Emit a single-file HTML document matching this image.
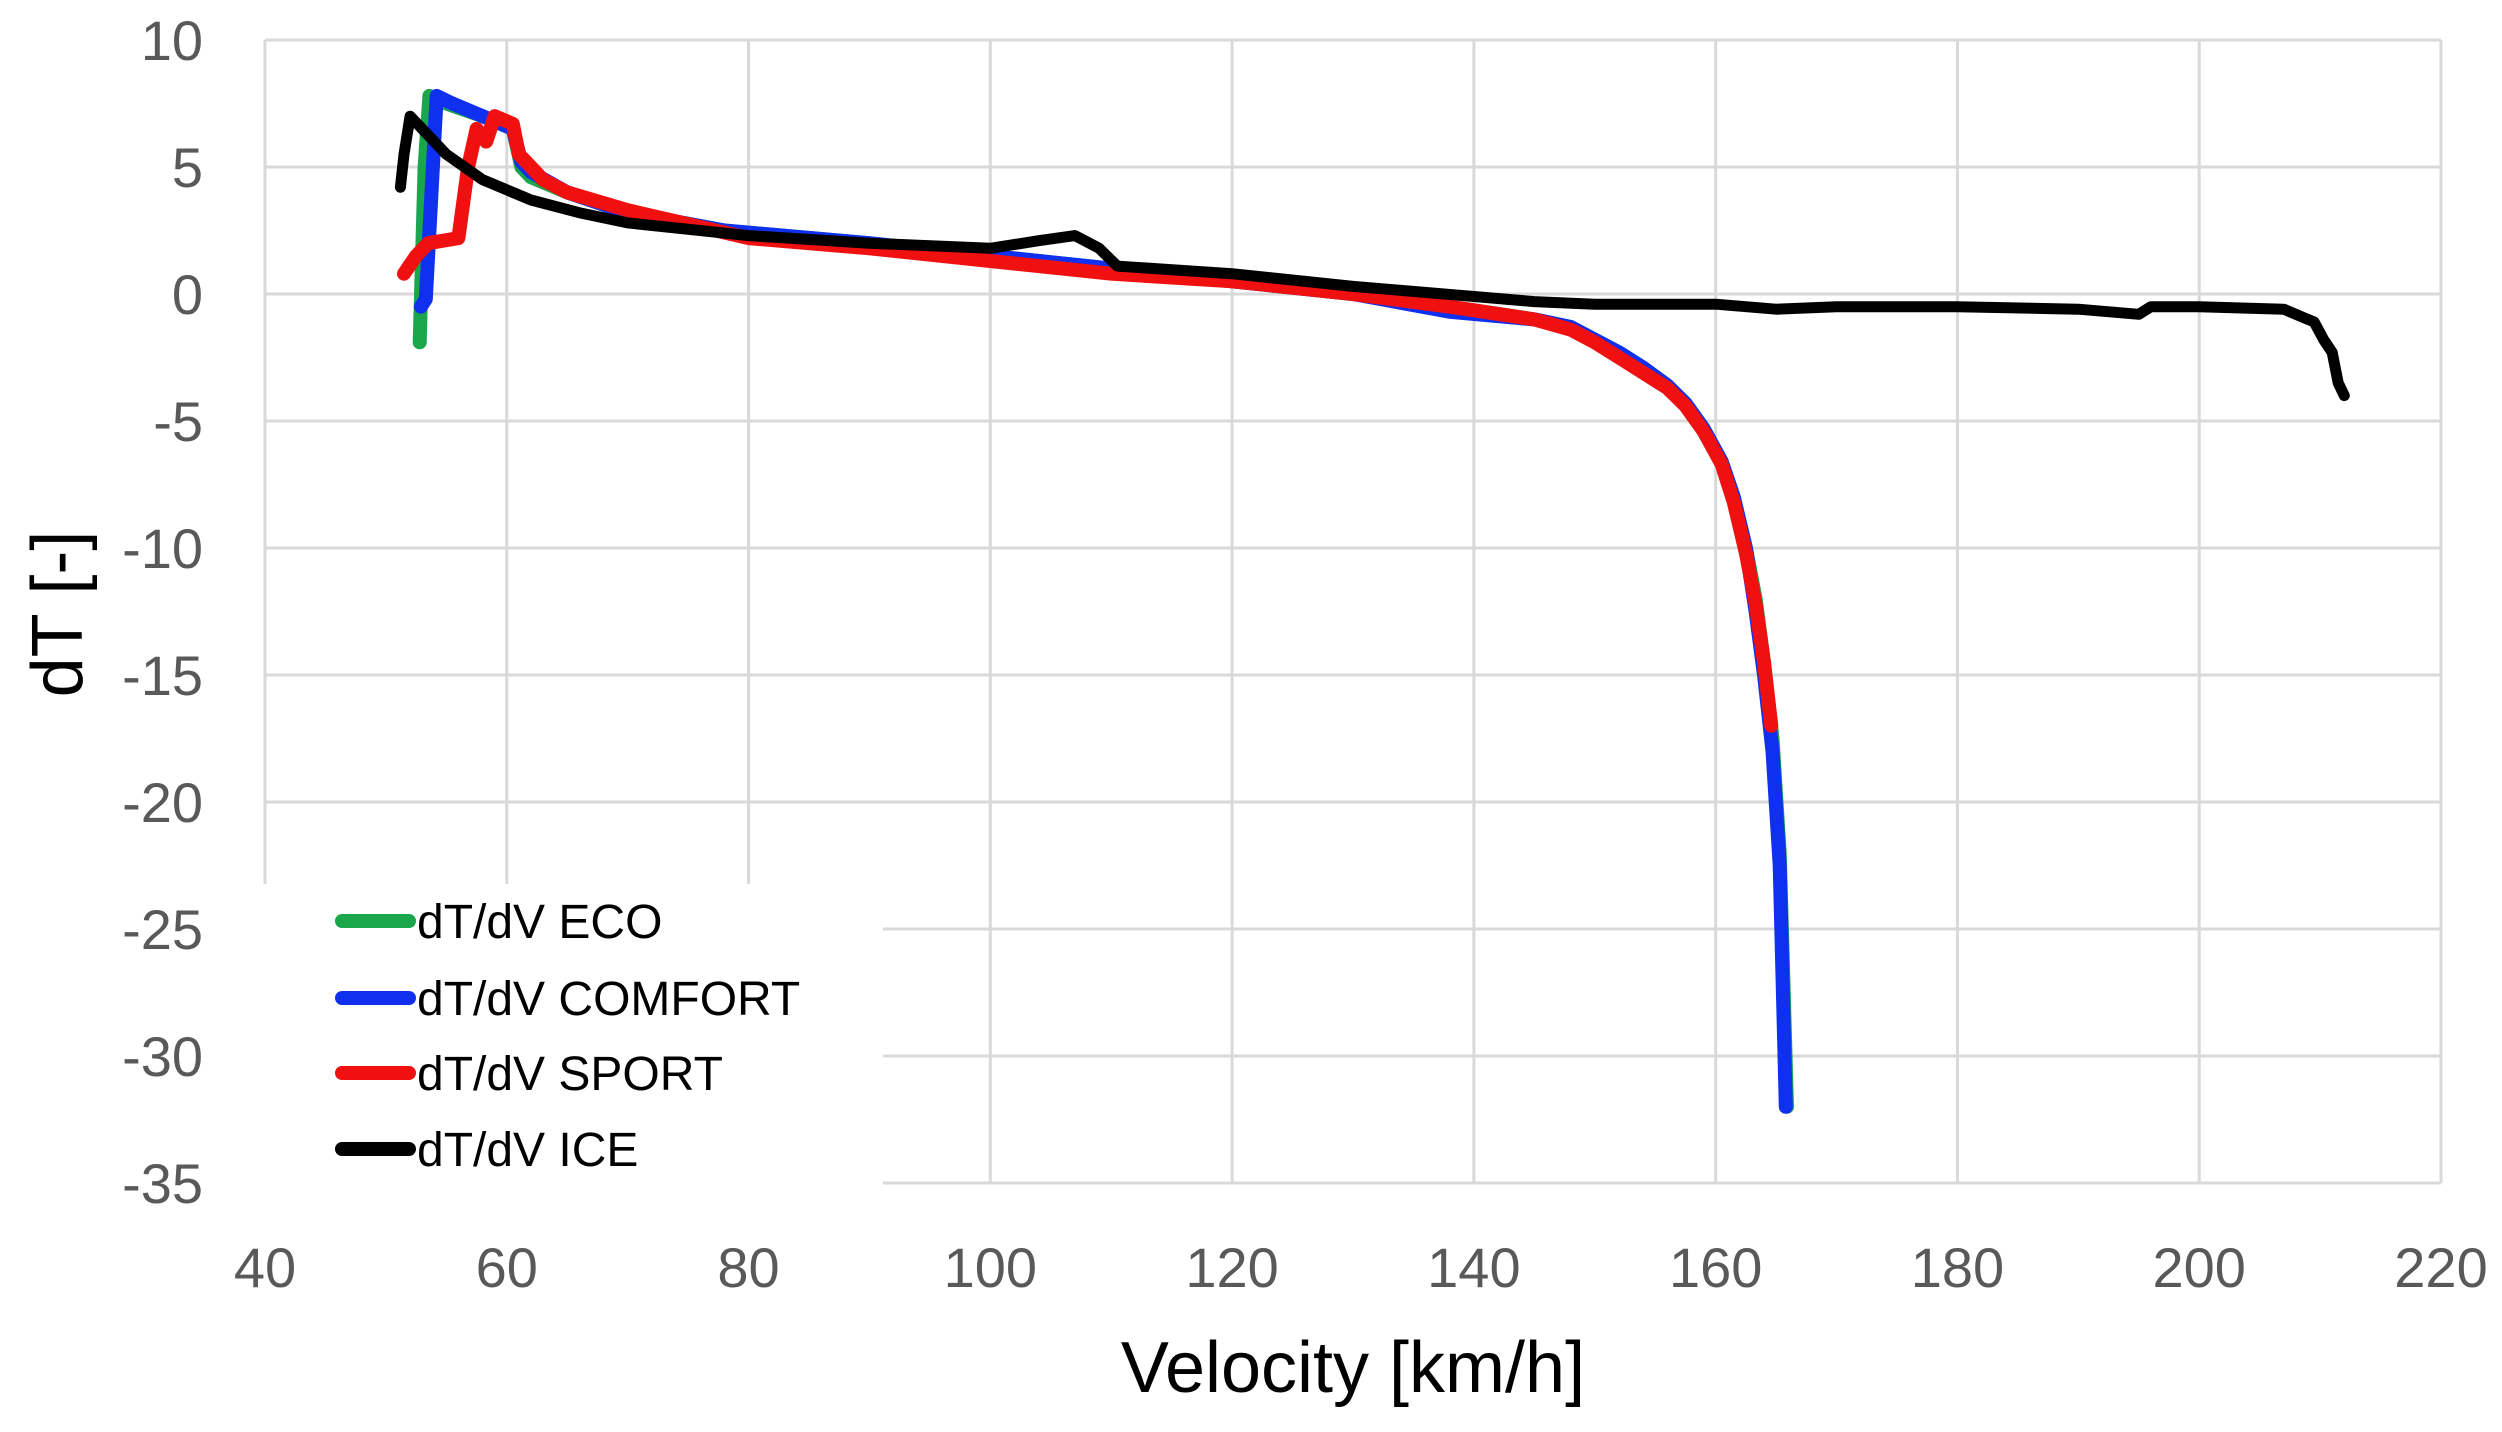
<!DOCTYPE html>
<html><head><meta charset="utf-8">
<style>
html,body{margin:0;padding:0;background:#fff;}
svg{display:block;font-family:"Liberation Sans",sans-serif;}
</style></head>
<body>
<svg id="chart" width="2502" height="1432" viewBox="0 0 2502 1432" xmlns="http://www.w3.org/2000/svg"></svg>
<script>
const xTicks = [40,60,80,100,120,140,160,180,200,220];
const yTicks = [10,5,0,-5,-10,-15,-20,-25,-30,-35];
const seriesNames = ["dT/dV ECO","dT/dV COMFORT","dT/dV SPORT","dT/dV ICE"];
const seriesColors = ["#1aa64a","#1030f0","#f01010","#000000"];
const ecoV = [52.8,53.2,53.6,55,58,60.5,61.2,62,65,70,78,90,100,110,120,130,138,145,148,150,152,154,156,157.5,159,160.5,161.5,162.5,163.3,164,164.7,165.3,165.9];
const ecoT = [-1.9,5,7.8,7.5,7,6.5,5,4.6,4,3.2,2.5,2,1.5,1,0.5,0,-0.5,-1,-1.3,-1.8,-2.3,-2.9,-3.6,-4.3,-5.3,-6.6,-8,-10,-12,-14.5,-17.5,-22,-32];
const comfortV = [52.9,53.3,54.2,55.5,58,60.5,61.2,62,65,70,78,90,100,110,120,130,138,145,148,150,152,154,156,157.5,159,160.5,161.5,162.5,163.3,164,164.7,165.3,165.8];
const comfortT = [-0.5,-0.2,7.8,7.5,7,6.5,5.2,4.8,4,3.2,2.5,2,1.5,1,0.5,0,-0.7,-1,-1.3,-1.8,-2.3,-2.9,-3.6,-4.3,-5.3,-6.6,-8,-10,-12.5,-15,-18,-22.5,-32];
const sportV = [51.5,52.5,53.5,56,56.8,57.5,58.3,59,60.5,61,62,63,65,70,80,90,100,110,120,130,138,145,148,150,152,154,156,157.5,159,160.5,161.5,162.5,163.3,164,164.6];
const sportT = [0.8,1.5,2,2.2,5,6.5,6,7,6.7,5.5,5,4.5,4,3.3,2.2,1.8,1.3,0.8,0.5,0,-0.5,-1,-1.4,-1.9,-2.5,-3.1,-3.7,-4.4,-5.4,-6.7,-8.2,-10.2,-12.2,-14.5,-17];
const iceV = [51.2,51.5,52,53,55,58,62,66,70,80,90,100,104,107,109,110.5,120,130,140,145,150,160,165,170,180,190,195,196,200,207,208.5,209.5,210.3,211,211.5,212];
const iceT = [4.2,5.5,7,6.5,5.5,4.5,3.7,3.2,2.8,2.3,2,1.8,2.1,2.3,1.8,1.1,0.8,0.3,-0.1,-0.3,-0.4,-0.4,-0.6,-0.5,-0.5,-0.6,-0.8,-0.5,-0.5,-0.6,-0.9,-1.1,-1.8,-2.3,-3.5,-4];
const allV = [ecoV,comfortV,sportV,iceV];
const allT = [ecoT,comfortT,sportT,iceT];

const NS = "http://www.w3.org/2000/svg";
const svg = document.getElementById('chart');
const L=265,R=2441,T=40,B=1183;
const xMin=40,xMax=220,yMin=-35,yMax=10;
function sx(v){return L+(v-xMin)/(xMax-xMin)*(R-L);}
function sy(v){return T+(yMax-v)/(yMax-yMin)*(B-T);}
function mk(tag,attrs,parent){const e=document.createElementNS(NS,tag);for(const k in attrs)e.setAttribute(k,attrs[k]);(parent||svg).appendChild(e);return e;}

const grid = mk('g',{});


xTicks.forEach(v=>{
  const l=mk('line',{x1:sx(v),x2:sx(v),y1:T,y2:B,stroke:'#d9d9d9','stroke-width':3},grid);
  
  
  const t=mk('text',{x:sx(v),y:1287,'text-anchor':'middle','font-size':56,fill:'#595959'});
  t.textContent=v;
  
  
});
yTicks.forEach(v=>{
  const l=mk('line',{x1:L,x2:R,y1:sy(v),y2:sy(v),stroke:'#d9d9d9','stroke-width':3},grid);
  
  
  const t=mk('text',{x:203,y:sy(v)+20,'text-anchor':'end','font-size':56,fill:'#595959'});
  t.textContent=v;
  
  
});

const lg = mk('g',{});


const bg=mk('rect',{x:240,y:884,width:643,height:310,fill:'#fff'},lg);



for(let i=0;i<4;i++){
  const d=allV[i].map((v,j)=>(j?'L':'M')+sx(v).toFixed(1)+','+sy(allT[i][j]).toFixed(1)).join(' ');
  const p=mk('path',{d:d,fill:'none',stroke:seriesColors[i],'stroke-width':i==3?11:14,'stroke-linejoin':'round','stroke-linecap':'round'});
  
  
}
[0,1,2,3].forEach(i=>{
  const y=[921,998,1073,1149][i];
  const g=mk('g',{},lg);
  
  
  mk('line',{x1:342,x2:409,y1:y,y2:y,stroke:seriesColors[i],'stroke-width':14,'stroke-linecap':'round'},g);
  const t=mk('text',{x:417,y:y+17,'font-size':48,fill:'#000'},g);
  t.textContent=seriesNames[i];
});

const xt=mk('text',{x:1353,y:1392,'text-anchor':'middle','font-size':72,fill:'#000'});
xt.textContent='Velocity [km/h]';


const yt=mk('text',{x:0,y:0,'text-anchor':'middle','font-size':72,fill:'#000',transform:'translate(82,614) rotate(-90)'});
yt.textContent='dT [-]';


</script>
</body></html>
